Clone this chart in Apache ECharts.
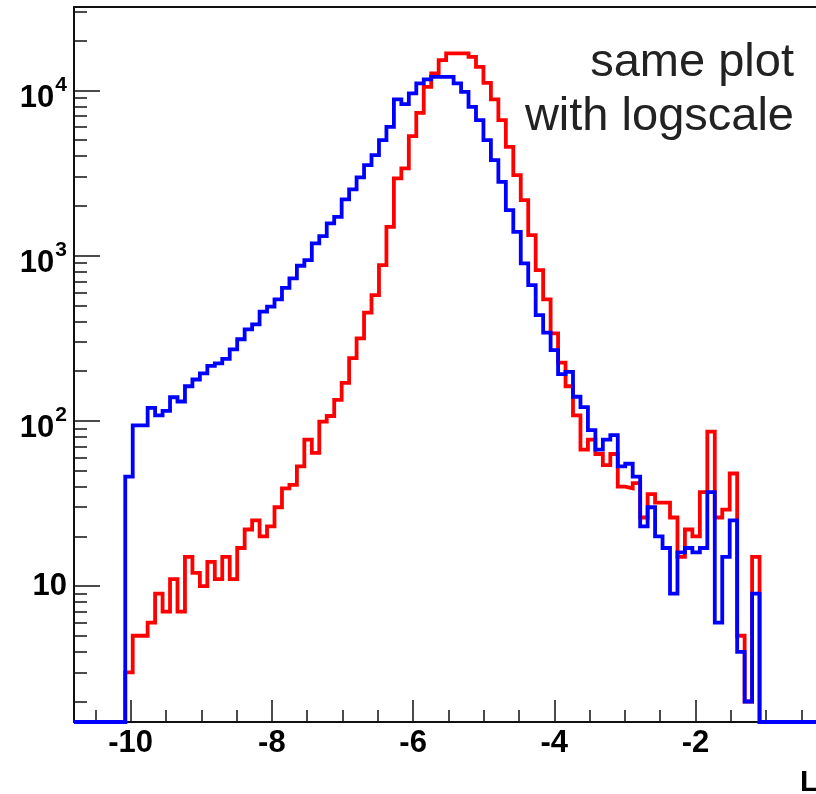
<!DOCTYPE html>
<html><head><meta charset="utf-8">
<script src="https://cdn.jsdelivr.net/npm/echarts@6/dist/echarts.min.js"></script>
<style>html,body{margin:0;padding:0;background:#fff}#c{width:816px;height:794px}</style>
</head><body><div id="c"></div><script>
// histogram binning
const binStart = -10.077;
const binWidth = 0.1057;
// blue histogram counts, one per bin
const blueCounts = [46,94,94,120,108,115,139,131,162,178,194,215,223,237,271,312,358,384,458,491,
  544,639,729,869,941,1187,1314,1568,1720,2192,2520,2979,3535,4064,5010,6031,8834,8275,9603,11041,
  11674,12106,12106,12106,11041,9820,7967,6622,5010,3790,2802,1888,1395,898,664,437,342,268,192,198,
  140,121,88,67,77,82,53,55,46,23,30,20,17,9,16,17,16,17,37,6,15,25,4,2,9];
// red histogram counts, one per bin
const redCounts = [3,5,5,6,9,7,11,7,15,12,10,14,11,15,11,17,22,25,20,23,
  30,39,41,53,77,64,99,107,134,170,240,316,452,577,877,1496,2937,3377,5297,7328,
  10530,12693,15276,16770,16770,16770,15996,13918,11133,8834,6622,4562,3075,2171,1333,818,544,339,225,162,
  108,67,77,63,54,63,40,39,42,26,36,32,32,26,15,22,20,37,86,26,29,48,5,2,15];
// axis ticks
const xMajorTicks = [-10,-8,-6,-4,-2];
const xMinorTicks = [-10.5,-9.5,-9,-8.5,-7.5,-7,-6.5,-5.5,-5,-4.5,-3.5,-3,-2.5,-1.5,-1,-0.5];
const yDecades = [10,100,1000,10000];
const yMinorMult = [2,3,4,5,6,7,8,9];
const xMin = -10.803, xMax = -0.293, yMin = 1.503, yMax = 32030;

const FONT = "'Liberation Sans', Arial, Helvetica, sans-serif";
const lyMin = Math.log10(yMin), lyMax = Math.log10(yMax);
const lv = c => c > 0 ? Math.log10(c) : lyMin;

function stepPath(counts){
  const pts = [[xMin, lyMin], [binStart, lyMin]];
  counts.forEach((c, k) => {
    const x0 = binStart + k * binWidth, x1 = x0 + binWidth;
    pts.push([x0, lv(c)], [x1, lv(c)]);
  });
  const xEnd = binStart + counts.length * binWidth;
  pts.push([xEnd, lyMin], [xMax, lyMin]);
  return pts;
}

const yMajorLog = yDecades.map(v => Math.log10(v));
const yMinorLog = [];
[1,10,100,1000,10000].forEach(d => yMinorMult.forEach(m => {
  const l = Math.log10(d*m);
  if (l > lyMin && l < lyMax) yMinorLog.push(l);
}));

const chart = echarts.init(document.getElementById('c'), null, {renderer:'canvas'});
const axisCol = '#111';
chart.setOption({
  animation: false,
  backgroundColor: '#fff',
  grid: {left: 74, top: 7, right: 0, bottom: 72, show: false},
  xAxis: [
    {type:'value', min:xMin, max:xMax, position:'bottom',
     axisLine:{show:true, onZero:false, lineStyle:{color:axisCol, width:2}},
     axisTick:{show:true, inside:true, length:22, customValues:xMajorTicks, lineStyle:{color:axisCol, width:1.5}},
     axisLabel:{show:true, customValues:xMajorTicks, margin:6, color:'#000', fontFamily:FONT, fontWeight:'bold', fontSize:31, lineHeight:31},
     splitLine:{show:false}},
    {type:'value', min:xMin, max:xMax, position:'bottom',
     axisLine:{show:false, onZero:false},
     axisTick:{show:true, inside:true, length:12, customValues:xMinorTicks, lineStyle:{color:axisCol, width:1.5}},
     axisLabel:{show:false}, splitLine:{show:false}},
    {type:'value', min:xMin, max:xMax, position:'top',
     axisLine:{show:true, onZero:false, lineStyle:{color:axisCol, width:2}},
     axisTick:{show:false}, axisLabel:{show:false}, splitLine:{show:false}}
  ],
  yAxis: [
    {type:'value', min:lyMin, max:lyMax, position:'left',
     axisLine:{show:true, onZero:false, lineStyle:{color:axisCol, width:2}},
     axisTick:{show:true, inside:true, length:26, customValues:yMajorLog, lineStyle:{color:axisCol, width:1.5}},
     axisLabel:{show:true, customValues:yMajorLog, margin:7, color:'#000',
       formatter: v => {
         const e = Math.round(v);
         return e === 1 ? '{b|10}' : '{p| }{b|10}{s|' + e + '}';
       },
       rich:{
         b:{fontFamily:FONT, fontWeight:'bold', fontSize:31, lineHeight:32, verticalAlign:'bottom', color:'#000'},
         s:{fontFamily:FONT, fontWeight:'bold', fontSize:21, verticalAlign:'top', padding:[7,0,0,1], color:'#000'},
         p:{fontSize:1, lineHeight:46}
       }},
     splitLine:{show:false}},
    {type:'value', min:lyMin, max:lyMax, position:'left',
     axisLine:{show:false, onZero:false},
     axisTick:{show:true, inside:true, length:13, customValues:yMinorLog, lineStyle:{color:axisCol, width:1.5}},
     axisLabel:{show:false}, splitLine:{show:false}}
  ],
  series: [
    {type:'line', data: stepPath(redCounts), xAxisIndex:0, yAxisIndex:0, showSymbol:false, symbol:'none', clip:false,
     lineStyle:{color:'#ff0000', width:3.8, join:'miter'}, z:3},
    {type:'line', data: stepPath(blueCounts), xAxisIndex:0, yAxisIndex:0, showSymbol:false, symbol:'none', clip:false,
     lineStyle:{color:'#0000ff', width:3.8, join:'miter'}, z:4}
  ],
  graphic: [
    {type:'text', right: 22, top: 40, z:10, style:{text:'same plot', font:'47px ' + FONT, fill:'#222', textAlign:'right'}},
    {type:'text', right: 22, top: 94, z:10, style:{text:'with logscale', font:'47px ' + FONT, fill:'#222', textAlign:'right'}},
    {type:'text', left: 800, top: 768, z:10, style:{text:'L', font:'bold 30px ' + FONT, fill:'#000'}}
  ]
});
</script></body></html>
